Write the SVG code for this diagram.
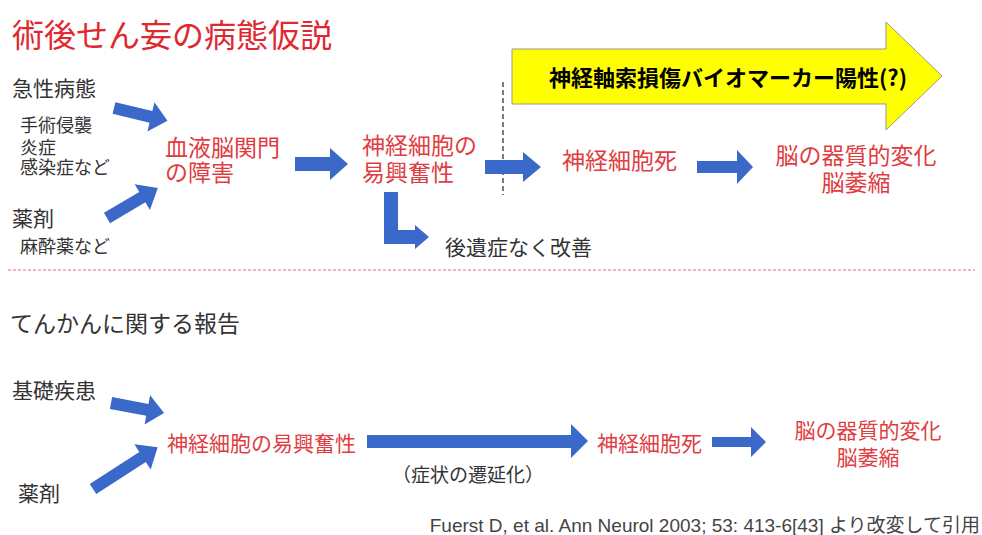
<svg xmlns="http://www.w3.org/2000/svg" width="982" height="535" viewBox="0 0 982 535">
<style>
text{font-family:"Noto Sans CJK JP","Noto Sans",sans-serif}
.red{fill:#e03c41}
.blk{fill:#333333}
.arr{fill:#3b69c9}
</style>
<rect width="982" height="535" fill="#ffffff"/>
<g id="title"><text x="12" y="47" font-size="32" fill="#e0282f">術後せん妄の病態仮説</text></g>
<g id="biomarker">
<polygon points="512,49 886,49 886,22 942,76 886,130 886,104 512,104" fill="#ffff00" stroke="#999999" stroke-width="1"/>
<text x="728" y="86" font-size="22" font-weight="bold" fill="#000000" text-anchor="middle">神経軸索損傷バイオマーカー陽性(?)</text>
</g>
<g id="acute"><text x="12" y="96" font-size="21" class="blk">急性病態</text>
<text x="20" y="132" font-size="18" class="blk">手術侵襲</text>
<text x="20" y="154" font-size="18" class="blk">炎症</text>
<text x="20" y="174" font-size="18" class="blk">感染症など</text></g>
<g id="drug1"><text x="12" y="226" font-size="21" class="blk">薬剤</text>
<text x="20" y="253" font-size="18" class="blk">麻酔薬など</text></g>
<g id="bbb"><text x="165" y="156" font-size="23" class="red">血液脳関門</text>
<text x="165" y="181" font-size="23" class="red">の障害</text></g>
<g id="excite1"><text x="362" y="154" font-size="23" class="red">神経細胞の</text>
<text x="362" y="181" font-size="23" class="red">易興奮性</text></g>
<g id="recover"><text x="445" y="255" font-size="21" class="blk">後遺症なく改善</text></g>
<g id="death1"><text x="562" y="169" font-size="23" class="red">神経細胞死</text></g>
<g id="organic1"><text x="856" y="164" font-size="23" class="red" text-anchor="middle">脳の器質的変化</text>
<text x="856" y="191" font-size="23" class="red" text-anchor="middle">脳萎縮</text></g>
<g id="section2"><text x="10" y="332" font-size="23" class="blk">てんかんに関する報告</text></g>
<g id="basal"><text x="12" y="398" font-size="21" class="blk">基礎疾患</text></g>
<g id="drug2"><text x="18" y="501" font-size="21" class="blk">薬剤</text></g>
<g id="excite2"><text x="167" y="451" font-size="21" class="red">神経細胞の易興奮性</text></g>
<g id="prolong"><text x="468" y="482" font-size="19" class="blk" text-anchor="middle">（症状の遷延化）</text></g>
<g id="death2"><text x="597" y="451" font-size="21" class="red">神経細胞死</text></g>
<g id="organic2"><text x="868" y="438" font-size="21" class="red" text-anchor="middle">脳の器質的変化</text>
<text x="868" y="465" font-size="21" class="red" text-anchor="middle">脳萎縮</text></g>
<g id="citation"><text x="980" y="532" font-size="19" fill="#444444" text-anchor="end" style="font-family:'Liberation Sans','Noto Sans CJK JP',sans-serif">Fuerst D, et al. Ann Neurol 2003; 53: 413-6[43] より改変して引用</text></g>
<g id="connectors">
<line x1="8" y1="270" x2="975" y2="270" stroke="#e06a78" stroke-width="1" stroke-dasharray="3,2"/>
<line x1="503" y1="82" x2="503" y2="195" stroke="#222222" stroke-width="1.2" stroke-dasharray="5,3"/>
<path class="arr" transform="translate(114,108) rotate(13.5)" d="M0,-6 H38 V-15 L55,0 L38,15 V6 H0 Z"/>
<path class="arr" transform="translate(107,218) rotate(-30.5)" d="M0,-6 H41 V-15 L59,0 L41,15 V6 H0 Z"/>
<path class="arr" d="M295,157 H330 V148 L348,164 L330,180 V171 H295 Z"/>
<path class="arr" d="M485,160 H523 V152 L541,167 L523,182 V174 H485 Z"/>
<path class="arr" d="M697,161 H737 V150 L753,167 L737,184 V173 H697 Z"/>
<path class="arr" d="M384,192 H398 V230 H415 V225 L429,237 L415,249 V244 H384 Z"/>
<path class="arr" transform="translate(111,403) rotate(10.7)" d="M0,-6 H37 V-15 L54,0 L37,15 V6 H0 Z"/>
<path class="arr" transform="translate(93,489) rotate(-32.9)" d="M0,-6 H59 V-15 L77,0 L59,15 V6 H0 Z"/>
<path class="arr" d="M367,435 H571 V424 L588,441 L571,458 V448 H367 Z"/>
<path class="arr" d="M712,437 H751 V427 L766,442 L751,457 V447 H712 Z"/>
</g>
</svg>
